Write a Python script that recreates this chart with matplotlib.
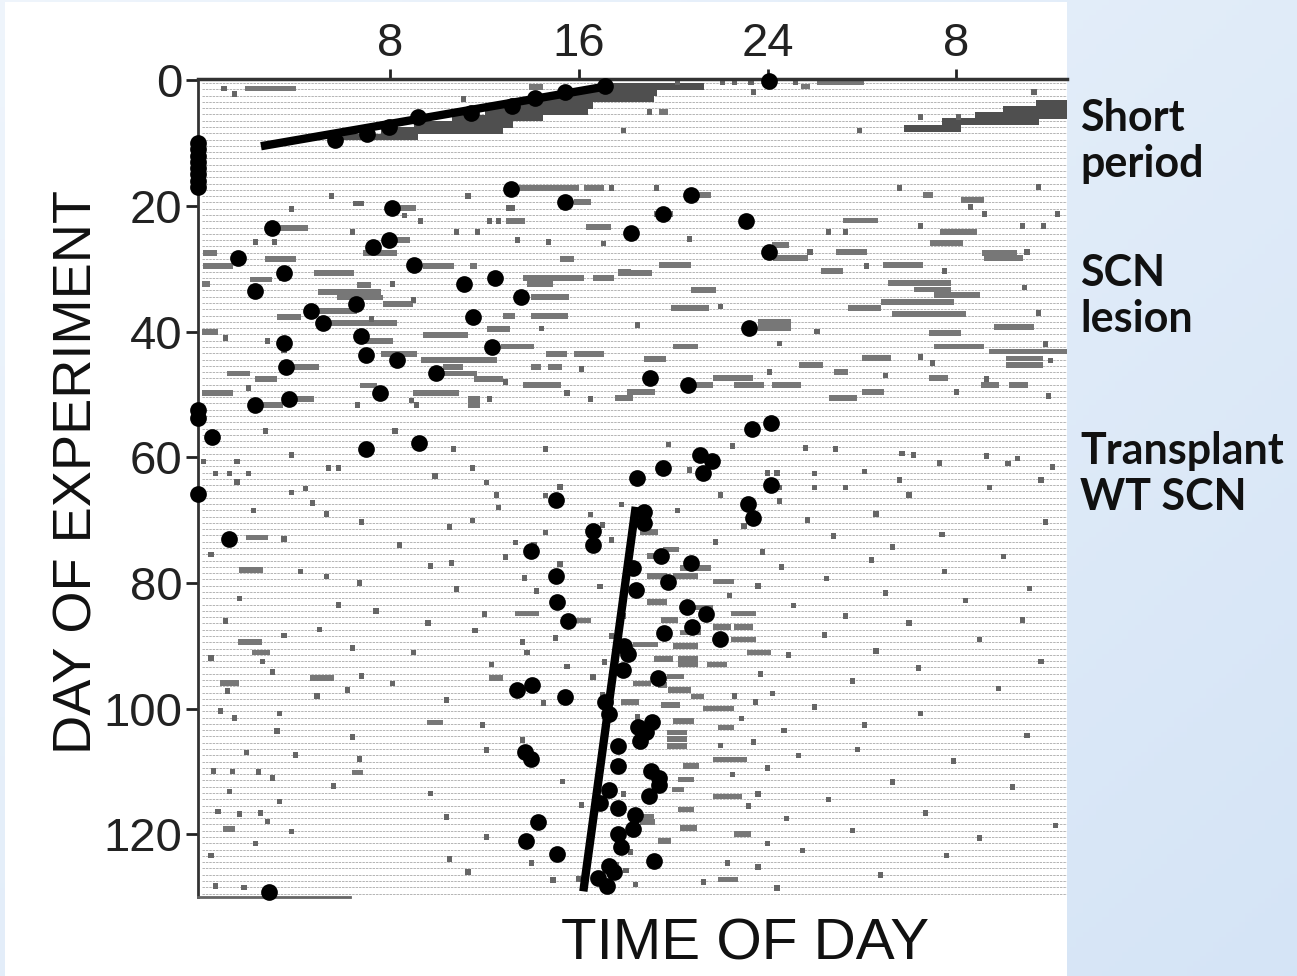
import matplotlib.pyplot as plt
import numpy as np

# ---- values ----
# x = time of day in hours (double plotted, 0..36.7), y = day of experiment

# dark activity band of the short-period part: (day, start h, end h)
band_bars = [(1.0, 17.1, 21.3), (2.0, 15.6, 19.3), (3.0, 14.4, 19.2), (4.0, 13.3, 16.6),
             (5.0, 12.0, 16.4), (6.0, 10.6, 14.5), (7.0, 9.0, 13.2), (8.0, 7.6, 12.8),
             (9.0, 6.0, 9.2), (3.7, 35.4, 36.7), (4.6, 34.0, 36.7), (5.6, 32.8, 36.7),
             (6.6, 31.4, 35.5), (7.7, 29.8, 32.2)]

# activity bouts after the SCN lesion (arrhythmic part)
lesion_bars = [(1.3, 1.85, 4.0), (1.1, 13.9, 14.5), (0.3, 26.1, 28.1), (1.0, 25.4, 25.8),
               (5.1, 19.4, 19.8), (17.2, 13.45, 16.0), (17.2, 16.2, 17.05), (19.4, 15.8, 16.5),
               (18.3, 20.75, 21.6), (18.3, 30.6, 31.0), (19.1, 32.2, 33.2), (20.3, 8.4, 9.1),
               (21.3, 19.2, 20.0), (22.4, 12.9, 13.7), (22.3, 27.2, 28.7), (23.5, 3.3, 4.5),
               (23.4, 16.3, 17.35), (24.2, 31.3, 32.9), (25.4, 8.1, 8.85), (25.9, 30.9, 32.3),
               (26.2, 24.2, 24.9), (27.3, 26.9, 28.2), (27.5, 6.85, 8.3), (27.5, 0.05, 0.65),
               (27.5, 33.1, 34.6), (28.5, 2.7, 4.0), (28.5, 15.2, 15.8), (28.3, 24.25, 25.7),
               (28.3, 33.2, 34.85), (29.4, 19.4, 20.75), (29.4, 28.9, 30.6), (29.6, 0.05, 1.35),
               (29.6, 9.4, 10.7), (29.6, 11.4, 11.7), (30.4, 26.25, 27.2), (30.5, 17.65, 18.2),
               (30.7, 4.75, 6.45), (30.7, 17.65, 19.1), (31.5, 13.65, 16.2), (31.5, 16.6, 17.5),
               (31.7, 2.05, 3.0), (32.3, 29.1, 31.8), (32.4, 0.0, 0.35), (32.4, 13.8, 14.9),
               (32.6, 6.6, 7.2), (33.4, 20.75, 21.8), (33.3, 30.2, 31.8), (33.7, 4.95, 7.6),
               (34.2, 31.05, 33.0), (34.5, 13.95, 15.6), (34.6, 5.75, 7.7), (35.3, 28.8, 31.9),
               (35.6, 7.7, 8.95), (36.2, 19.9, 21.5), (36.2, 27.4, 28.8), (36.7, 4.9, 6.6),
               (37.2, 29.3, 32.4), (37.5, 13.95, 15.55), (37.5, 12.8, 13.3), (37.7, 3.2, 4.2),
               (38.5, 23.6, 25.0), (38.6, 5.45, 8.3), (39.3, 33.6, 35.3), (39.4, 23.6, 25.0),
               (39.6, 12.1, 13.1), (40.1, 0.0, 0.7), (40.2, 30.85, 32.2), (40.5, 9.4, 11.3),
               (41.5, 6.95, 8.1), (42.4, 12.7, 14.1), (42.4, 20.0, 21.05), (42.4, 31.05, 33.2),
               (43.2, 33.4, 36.7), (43.6, 7.6, 9.15), (43.6, 14.6, 15.5), (43.6, 15.8, 17.05),
               (44.2, 28.0, 29.25), (44.3, 34.1, 35.7), (44.4, 18.75, 19.7), (44.5, 9.3, 12.55),
               (45.3, 25.35, 26.35), (45.3, 34.1, 35.7), (45.6, 3.75, 5.0), (45.6, 10.25, 11.1),
               (45.6, 13.95, 14.4), (45.6, 14.7, 15.3), (46.4, 26.8, 27.4), (46.7, 1.1, 2.05),
               (46.7, 10.1, 11.7), (47.4, 21.7, 23.4), (47.4, 30.85, 31.65), (47.5, 2.25, 3.2),
               (47.5, 11.55, 12.8), (48.5, 13.65, 15.25), (48.5, 20.8, 21.7), (48.5, 22.6, 23.85),
               (48.5, 24.2, 25.4), (48.5, 33.05, 33.8), (48.5, 34.25, 35.05), (48.6, 6.7, 7.45),
               (49.6, 18.05, 19.25), (49.6, 28.0, 28.95), (49.8, 0.0, 1.35), (49.8, 8.95, 10.9),
               (50.6, 17.55, 18.3), (50.6, 26.6, 27.8), (50.7, 3.75, 4.75), (50.7, 11.3, 11.8),
               (51.7, 2.35, 3.45), (51.7, 11.3, 11.8)]

# activity bouts after the transplant
transplant_bars = [(72.8, 1.9, 2.8), (77.9, 1.6, 2.6), (89.4, 1.55, 2.55), (91.1, 2.15, 2.9),
                   (95.9, 0.8, 1.6), (95.1, 4.6, 5.6), (84.9, 13.3, 14.3), (86.0, 15.8, 16.5),
                   (95.1, 12.2, 12.8), (71.9, 18.6, 19.35), (74.7, 19.55, 20.25), (75.7, 18.9, 19.75),
                   (77.6, 20.3, 21.6), (78.9, 18.9, 19.75), (78.9, 20.0, 21.05), (79.8, 21.7, 22.6),
                   (83.0, 18.9, 19.75), (83.9, 20.9, 21.7), (84.9, 22.45, 23.5), (85.9, 19.5, 20.2),
                   (87.0, 21.7, 22.45), (87.0, 22.6, 23.4), (87.9, 20.3, 21.2), (89.0, 22.45, 23.5),
                   (89.8, 18.3, 19.35), (90.1, 20.0, 21.05), (91.1, 23.15, 24.15), (92.1, 19.2, 20.0),
                   (92.1, 20.2, 21.05), (93.0, 21.45, 22.3), (93.0, 20.2, 21.05), (94.9, 19.75, 20.45),
                   (96.0, 18.3, 19.05), (96.3, 19.35, 19.75), (97.0, 19.8, 20.75), (98.1, 20.75, 21.3),
                   (99.0, 17.8, 18.55), (99.4, 19.5, 20.3), (100.0, 21.25, 22.6), (102.0, 20.0, 20.9),
                   (102.2, 9.55, 10.25), (103.0, 21.9, 22.6), (103.8, 19.75, 20.6), (104.9, 19.75, 20.6),
                   (106.0, 19.75, 20.6), (108.1, 21.7, 23.15), (109.1, 20.4, 21.1), (110.2, 6.4, 6.85),
                   (111.3, 20.2, 20.9), (112.9, 19.97, 20.45), (114.0, 21.7, 22.9), (116.1, 20.2, 20.9),
                   (117.2, 18.6, 19.2), (118.1, 18.6, 19.25), (119.0, 20.3, 21.0), (119.2, 0.9, 1.4),
                   (120.0, 22.6, 23.3), (121.1, 19.35, 19.9), (127.2, 21.9, 22.75)]

# single short counts: (day, hour)
small_marks = [(1.3, 0.95), (2.2, 1.4), (3.0, 11.1), (0.3, 20.2), (0.3, 22.1), (0.3, 22.6), (0.3, 23.3),
               (0.3, 25.2), (1.9, 23.4), (1.9, 35.3), (5.1, 19.0), (8.0, 17.9), (5.9, 30.5), (5.9, 32.1),
               (8.0, 27.9), (17.2, 19.3), (17.2, 17.4), (17.2, 29.6), (17.0, 35.5), (18.4, 11.3),
               (18.4, 5.5), (19.6, 6.55), (19.6, 6.8), (20.5, 3.8), (21.5, 8.6), (20.3, 13.0),
               (20.3, 13.2), (22.4, 12.2), (22.4, 12.6), (22.4, 9.3), (20.2, 32.6), (21.3, 33.2),
               (21.3, 36.3), (23.2, 30.5), (23.2, 34.8), (23.2, 35.7), (24.2, 26.6), (24.2, 27.3),
               (24.2, 6.4), (24.2, 10.8), (24.2, 11.7), (25.4, 13.4), (25.7, 14.7), (25.7, 2.3),
               (25.7, 3.1), (25.3, 20.7), (26.0, 17.05), (27.3, 25.8), (27.3, 35.0), (29.6, 28.2),
               (30.4, 31.5), (31.5, 3.4), (32.4, 8.1), (33.0, 34.9), (35.0, 9.0), (36.0, 22.0),
               (37.0, 35.5), (38.0, 7.2), (39.0, 18.5), (39.5, 14.4), (40.0, 26.1), (41.0, 1.0),
               (41.5, 2.8), (41.9, 24.5), (42.0, 35.8), (43.0, 3.5), (44.0, 30.5), (44.6, 36.0),
               (45.0, 31.0), (46.0, 16.1), (46.4, 24.1), (47.0, 29.0), (47.6, 33.3), (48.0, 12.9),
               (49.0, 2.0), (49.6, 32.0), (50.3, 35.9), (51.0, 8.9), (51.7, 6.6), (51.7, 9.1),
               (50.7, 12.2), (50.7, 16.5), (49.8, 15.5),
               (55.8, 2.7), (55.8, 8.2), (58.7, 10.7), (58.7, 14.6), (60.7, 0.1), (60.7, 1.5),
               (59.6, 3.8), (61.7, 5.4), (61.7, 5.8), (61.7, 11.5), (62.6, 0.6), (62.6, 1.2),
               (62.6, 2.0), (63.9, 1.5), (64.7, 15.2), (65.0, 4.4), (65.6, 3.8), (66.0, 12.5),
               (67.3, 4.7), (68.5, 2.2), (69.0, 5.3), (70.1, 11.5), (70.3, 6.8), (71.1, 10.5),
               (72.0, 14.6), (73.0, 3.5), (74.0, 8.4), (74.0, 14.1), (75.5, 0.4), (75.9, 12.9),
               (76.8, 10.6), (77.0, 15.2), (78.2, 4.2), (79.0, 5.3), (79.2, 13.7), (80.0, 6.7),
               (81.0, 10.8), (81.3, 14.2), (82.5, 1.6), (83.5, 5.8), (84.5, 7.4), (85.0, 12.0),
               (86.1, 1.0), (86.4, 9.6), (87.4, 5.0), (87.6, 11.6), (88.4, 3.5), (88.8, 15.0),
               (89.4, 13.6), (90.4, 6.4), (91.1, 9.0), (91.1, 13.8), (92.0, 0.4), (92.5, 2.6),
               (93.0, 12.3), (93.3, 15.5), (94.2, 3.0), (94.8, 6.8), (96.0, 8.1), (97.2, 1.1),
               (97.0, 6.2), (98.0, 4.9), (98.6, 10.4), (99.1, 14.5), (100.4, 0.8), (100.8, 3.3),
               (101.5, 1.4), (102.6, 11.9), (103.6, 3.2), (104.5, 6.4), (105.0, 13.6), (106.6, 12.1),
               (107.0, 1.9), (107.4, 4.0), (108.0, 6.7), (109.9, 0.5), (110.0, 1.3), (110.1, 2.4),
               (111.1, 3.0), (111.6, 15.3), (112.3, 5.6), (113.2, 1.2), (113.5, 9.7), (114.8, 3.3),
               (115.4, 16.1), (116.4, 0.7), (116.8, 1.6), (116.6, 2.5), (117.3, 10.4), (118.0, 2.8),
               (119.6, 3.8), (120.4, 12.1), (121.5, 2.3), (123.4, 0.4), (124.0, 10.5), (124.6, 14.0),
               (126.0, 11.3), (127.3, 14.9), (127.1, 16.0), (128.3, 0.6), (128.5, 1.8),
               (58.0, 19.8), (58.2, 22.5), (58.5, 25.6), (58.7, 26.9), (59.4, 29.7), (59.6, 30.2),
               (59.8, 33.3), (60.2, 34.6), (60.9, 31.3), (61.0, 34.2), (61.6, 36.1), (62.0, 20.7),
               (62.3, 28.1), (62.5, 24.0), (62.5, 24.4), (62.6, 26.0), (63.6, 29.6), (63.6, 35.6),
               (64.8, 26.0), (64.8, 27.3), (64.8, 24.5), (64.8, 33.4), (66.0, 22.0), (66.0, 30.0),
               (67.5, 17.8), (67.0, 24.5), (68.5, 20.2), (69.0, 28.6), (70.0, 25.7), (70.3, 35.8),
               (71.0, 23.0), (72.3, 31.4), (72.5, 26.8), (73.5, 21.8), (74.3, 29.3), (75.1, 23.8),
               (75.8, 34.0), (76.4, 28.4), (77.5, 24.6), (78.2, 31.5), (79.3, 26.5), (80.5, 23.6),
               (80.9, 35.1), (81.6, 29.0), (82.0, 22.4), (82.8, 32.4), (83.6, 25.1), (85.3, 27.3),
               (85.9, 34.8), (86.4, 30.0), (88.3, 26.4), (89.0, 33.0), (90.8, 28.6), (91.5, 24.9),
               (92.5, 35.6), (93.6, 30.4), (94.5, 23.7), (95.6, 27.6), (96.8, 33.8), (97.6, 24.2),
               (98.0, 22.6), (99.0, 23.5), (99.8, 26.0), (100.8, 30.5), (101.6, 22.9), (102.6, 28.1),
               (103.5, 24.7), (104.3, 35.0), (105.3, 23.4), (105.9, 22.0), (106.5, 27.8), (107.5, 25.3),
               (108.4, 31.9), (109.5, 24.0), (110.5, 22.5), (111.7, 29.3), (112.5, 34.4), (113.6, 23.6),
               (114.5, 26.6), (115.5, 23.2), (116.6, 30.7), (117.5, 24.8), (118.6, 36.2), (119.4, 27.6),
               (120.6, 33.0), (121.5, 24.0), (122.6, 25.5), (123.4, 31.6), (124.6, 22.3), (125.2, 23.6),
               (126.5, 28.8), (127.6, 21.3), (128.0, 18.4), (128.6, 24.4), (125.8, 18.0), (124.8, 17.6),
               (122.8, 18.2), (113.6, 17.9), (108.7, 17.5), (104.6, 18.9), (101.4, 18.5), (97.8, 17.0),
               (95.0, 16.6), (92.6, 17.1), (88.5, 17.4), (85.3, 17.9), (80.6, 16.9), (76.3, 18.1),
               (73.2, 17.4), (70.8, 17.0), (69.1, 16.5), (66.1, 14.6), (64.0, 12.1), (63.0, 9.9),
               (73.6, 13.3), (68.0, 12.6), (77.3, 9.7)]

# activity onsets (black dots): hour, day
onset_hour = [5.66, 7.02, 7.96, 9.19, 11.44, 13.18, 14.12, 15.43, 17.13, 24.06,
              -0.15, -0.15, -0.15, -0.15, -0.15, -0.15, -0.15, -0.15,
              13.14, 15.43, 8.08, 2.98, 7.96, 7.28, 20.74, 19.56, 23.08, 18.2, 24.06,
              1.54, 3.50, 9.02, 12.46, 11.14, 2.26, 13.56, 6.55, 4.64, 11.53, 5.15, 23.21,
              6.77, 3.50, 12.33, 6.98, 8.30, 3.58, 9.95, 19.01, 20.62, 7.57, 3.71, 2.26,
              -0.15, -0.15, 23.33, 24.14, 0.44, 6.98, 9.23,
              21.12, 21.63, 19.56, 21.25, 18.45, 24.14, -0.15, 15.05, 23.16, 23.38, 18.75,
              18.75, 1.16, 16.58, 16.62, 13.99, 19.48, 20.74, 18.28, 15.05, 19.77, 18.41,
              15.09, 20.57, 21.38, 15.52, 20.78, 19.60, 21.97, 17.90, 18.07, 17.86, 19.35,
              14.03, 13.39, 15.43, 17.09, 17.26, 19.09, 18.50, 18.84, 18.58, 17.68, 13.73,
              13.95, 17.68, 19.05, 19.39, 19.39, 17.26, 18.96, 16.88, 17.68, 18.37, 14.25,
              18.28, 17.68, 13.77, 17.77, 15.09, 19.18, 17.26, 17.47, 16.83, 17.18, 2.86]
onset_day = [9.5, 8.6, 7.5, 5.9, 5.2, 4.1, 2.9, 1.9, 0.95, 0.16,
             10, 11, 12, 13, 14, 15, 16, 17,
             17.3, 19.4, 20.3, 23.5, 25.4, 26.6, 18.3, 21.3, 22.4, 24.3, 27.3,
             28.3, 30.7, 29.4, 31.5, 32.4, 33.5, 34.5, 35.6, 36.7, 37.7, 38.6, 39.4,
             40.7, 41.8, 42.4, 43.7, 44.5, 45.6, 46.6, 47.4, 48.5, 49.8, 50.7, 51.7,
             52.5, 53.7, 55.5, 54.5, 56.8, 58.7, 57.7,
             59.6, 60.6, 61.7, 62.5, 63.3, 64.5, 65.8, 66.8, 67.4, 69.6, 68.7,
             70.4, 73.0, 71.7, 73.9, 74.9, 75.8, 76.8, 77.7, 78.9, 79.8, 81.1,
             83.1, 83.9, 84.9, 86.0, 87.0, 87.9, 89.0, 90.1, 91.4, 93.8, 95.1,
             96.2, 97.0, 98.1, 99.0, 100.9, 102.1, 103.0, 103.8, 105.1, 106.0, 107.0,
             108.1, 109.1, 110.0, 111.0, 112.1, 113.0, 114.0, 115.1, 115.9, 117.0, 118.1,
             119.1, 120.0, 121.1, 122.1, 123.1, 124.2, 125.1, 126.1, 127.0, 128.3, 129.2]

# fitted onset lines (hour, day) end points
fit_short_hour = [2.52, 17.21]
fit_short_day = [10.5, 0.95]
fit_wt_hour = [18.41, 16.19]
fit_wt_day = [67.9, 129.1]

xtick_pos = [8, 16, 24, 32]
xtick_lab = ['8', '16', '24', '8']
ytick_pos = [0, 20, 40, 60, 80, 100, 120]
n_days = 130

W, H = 1297, 976
fig = plt.figure(figsize=(W / 100, H / 100), dpi=100)

# slide background: pale blue gradient with a white panel
bg = fig.add_axes([0, 0, 1, 1], zorder=-10)
gx, gy = np.meshgrid(np.linspace(0, 1, 200), np.linspace(0, 1, 200))
t = 0.55 * gx + 0.45 * gy
c0 = np.array([0.935, 0.960, 0.988])
c1 = np.array([0.835, 0.895, 0.965])
img = c0[None, None, :] * (1 - t[..., None]) + c1[None, None, :] * t[..., None]
bg.imshow(img, extent=[0, 1, 0, 1], aspect='auto', origin='upper')
bg.add_patch(plt.Rectangle((5 / W, 0), (1067 - 5) / W, 1 - 2 / H, color='white', lw=0))
bg.set_xlim(0, 1)
bg.set_ylim(0, 1)
bg.axis('off')

ax = fig.add_axes([198 / W, 1 - 897 / H, (1067 - 198) / W, (897 - 79) / H])
ax.set_facecolor('none')

# day baselines
days = np.arange(n_days)
ax.hlines(days + 0.45, 0, 36.7, color='#b4b4b4', lw=0.7, linestyle=(0, (2.5, 1)), zorder=1)

# activity bouts
def draw_bars(bars, color, h):
    d = np.array([b[0] for b in bars])
    s = np.array([b[1] for b in bars])
    e = np.array([b[2] for b in bars])
    ax.barh(d, e - s, left=s, height=h, color=color, edgecolor='none', zorder=2)

draw_bars(band_bars, '#4f4f4f', 1.05)
draw_bars(lesion_bars, '#777777', 0.9)
draw_bars(transplant_bars, '#777777', 0.9)
md = np.array([m[0] for m in small_marks])
mh = np.array([m[1] for m in small_marks])
ax.barh(md, 0.22, left=mh - 0.11, height=0.9, color='#666666', edgecolor='none', zorder=2)

# onset lines and onsets
ax.plot(fit_short_hour, fit_short_day, color='black', lw=6, solid_capstyle='butt', zorder=4)
ax.plot(fit_wt_hour, fit_wt_day, color='black', lw=6, solid_capstyle='butt', zorder=4)
ax.scatter(onset_hour, onset_day, s=145, color='black', zorder=5, clip_on=False, linewidths=0)

ax.set_xlim(-0.15, 36.7)
ax.set_ylim(130, -0.2)

ax.xaxis.tick_top()
ax.set_xticks(xtick_pos)
ax.set_xticklabels(xtick_lab)
ax.set_yticks(ytick_pos)
ax.tick_params(axis='x', length=7, width=2, pad=2, labelsize=34, colors='#222')
ax.tick_params(axis='y', length=9, width=2, pad=2, labelsize=34, colors='#222')
for lab in ax.get_xticklabels() + ax.get_yticklabels():
    lab.set_fontfamily('Liberation Sans')

ax.spines['right'].set_visible(False)
ax.spines['top'].set_linewidth(2.5)
ax.spines['top'].set_color('#333')
ax.spines['left'].set_linewidth(2)
ax.spines['left'].set_color('#333')
ax.spines['bottom'].set_linewidth(2)
ax.spines['bottom'].set_color('#666')
ax.spines['bottom'].set_bounds(-0.15, 6.3)

fig.text(745 / W, 1 - 945 / H, 'TIME OF DAY', ha='center', va='center',
         fontsize=42, family='Liberation Sans', color='#111')
fig.text(78 / W, 1 - 472 / H, 'DAY OF EXPERIMENT', ha='center', va='center',
         rotation=90, fontsize=39, family='Liberation Sans', color='#111')

# slide annotations
for txt, yc in [('Short\nperiod', 141), ('SCN\nlesion', 296), ('Transplant\nWT SCN', 474)]:
    fig.text(1080 / W, 1 - yc / H, txt, ha='left', va='center', fontsize=31,
             family='Lato', fontweight='bold', color='#111', linespacing=1.2)

plt.savefig('out.png', dpi=100)
